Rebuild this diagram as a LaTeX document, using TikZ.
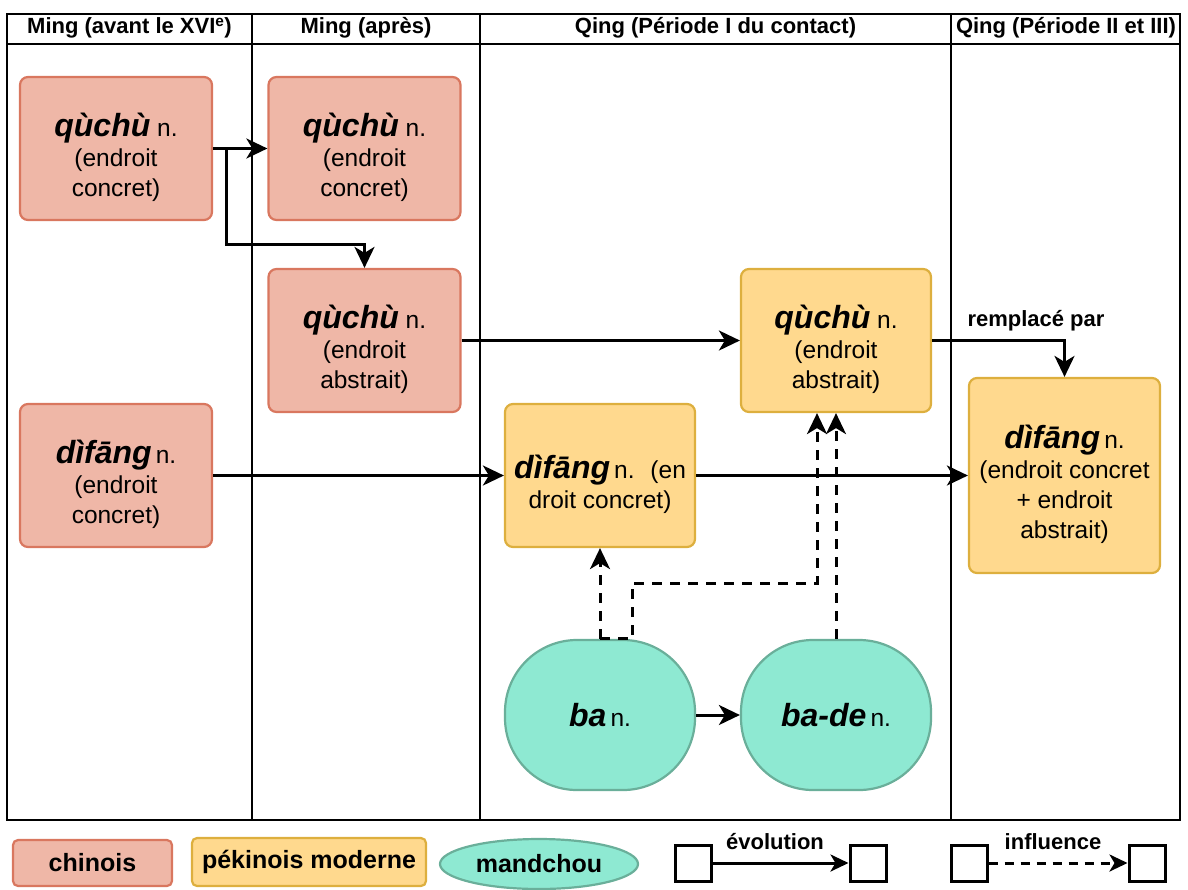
\documentclass[tikz,border=0pt]{standalone}
\usepackage{fontspec}
\setmainfont{Liberation Sans}
\usetikzlibrary{arrows.meta,shapes.geometric}
\definecolor{salF}{HTML}{EFB7A7}
\definecolor{salD}{HTML}{D9775F}
\definecolor{yelF}{HTML}{FFD98E}
\definecolor{yelD}{HTML}{DDAF3E}
\definecolor{mntF}{HTML}{8EE9D2}
\definecolor{mntD}{HTML}{6AAF9A}
\newcommand\hw[1]{{\bfseries\itshape\fontsize{32}{30}\selectfont #1}}
\newcommand\hwb[1]{\rule{0pt}{41pt}\hw{#1}}
\begin{document}
\begin{tikzpicture}[x=1pt,y=-1pt,
 box/.style={draw, line width=2.2pt, rounded corners=8pt, minimum width=192pt, minimum height=143pt, align=center, inner sep=0pt, font=\fontsize{24.5}{30}\selectfont},
 chi/.style={box, fill=salF, draw=salD},
 pek/.style={box, fill=yelF, draw=yelD},
 man/.style={draw=mntD, fill=mntF, line width=2.2pt, rounded corners=72pt, minimum width=190pt, minimum height=150pt, inner sep=0pt, font=\fontsize{24.5}{30}\selectfont},
 evo/.style={line width=3pt, -{Stealth[length=21pt,width=20pt,inset=6pt]}},
 inf/.style={evo, dash pattern=on 10pt off 8pt},
 hdr/.style={font=\bfseries\fontsize{22}{24}\selectfont, inner sep=0pt},
 grid/.style={line width=2pt},
 lg/.style={draw, line width=2.2pt, rounded corners=5pt, inner sep=0pt, font=\bfseries\fontsize{25}{27}\selectfont},
 sq/.style={draw, line width=3pt, minimum size=36pt, inner sep=0pt},
 lgarr/.style={line width=3pt, -{Stealth[length=18pt,width=17pt,inset=5pt]}},
 ]
\useasboundingbox (0,0) rectangle (1188,889);
% table
\draw[grid] (7,14) rectangle (1180,820);
\draw[grid] (7,44) -- (1180,44);
\foreach \x in {252,480,951} \draw[grid] (\x,14) -- (\x,820);
\node[hdr] (h1) at (129.5,28) {Ming (avant le XVI\textsuperscript{e})};
\node[hdr] (h2) at (366,28) {Ming (après)};
\node[hdr] (h3) at (715.5,28) {Qing (Période I du contact)};
\node[hdr] (h4) at (1066,28) {Qing (Période II et III)};
% boxes
\node[chi] (a) at (116,148.5) {\hwb{qùchù} n.\\(endroit\\concret)};
\node[chi] (b) at (364.5,148.5) {\hwb{qùchù} n.\\(endroit\\concret)};
\node[chi] (c) at (364.5,340.5) {\hwb{qùchù} n.\\(endroit\\abstrait)};
\node[chi] (d) at (116,475.5) {\hwb{dìfāng}\,n.\\(endroit\\concret)};
\node[pek, minimum width=190pt] (e) at (600,475.5) {\hwb{dìfāng}\,n.~ (en\\droit concret)};
\node[pek, minimum width=190pt] (f) at (836,340.5) {\hwb{qùchù} n.\\(endroit\\abstrait)};
\node[pek, minimum width=191pt, minimum height=195pt] (g) at (1064.5,475.5) {\hwb{dìfāng}\,n.\\(endroit concret\\+ endroit\\abstrait)};
\node[man] (ba) at (600,715) {\hw{ba}\,n.};
\node[man] (bade) at (836,715) {\hw{ba-de}\,n.};
% evolution arrows
\draw[evo] (a.east) -- (b.west);
\draw[evo] (a.east) -- (226,148.5) -- (226,244) -| (c.north);
\draw[evo] (c.east) -- (f.west);
\draw[evo] (d.east) -- (e.west);
\draw[evo] (e.east) -- (g.west);
\draw[evo] (f.east) -| (g.north);
\node[font=\bfseries\fontsize{22}{24}\selectfont] (rp) at (1036,321) {remplacé par};
\draw[evo] (ba.east) -- (bade.west);
% influence arrows
\draw[inf] (ba.north) -- (e.south);
\draw[inf] (ba.north) -- ++(32,0) |- (817,583) -- ([xshift=-19pt]f.south);
\draw[inf] (bade.north) -- (f.south);
% legend
\node[lg, fill=salF, draw=salD, minimum width=159pt, minimum height=46pt] (l1) at (92.5,863) {chinois};
\node[lg, fill=yelF, draw=yelD, minimum width=234pt, minimum height=48pt] (l2) at (309,862) {pékinois moderne};
\node[lg, ellipse, fill=mntF, draw=mntD, minimum width=198pt, minimum height=50pt] (l3) at (539,864) {mandchou};
\node[sq] (s1) at (693,863) {};
\node[sq] (s2) at (868,863) {};
\node[sq] (s3) at (969,863) {};
\node[sq] (s4) at (1147,863) {};
\draw[lgarr] (s1) -- (s2);
\draw[lgarr, dash pattern=on 9pt off 7pt] (s3) -- (s4);
\node[font=\bfseries\fontsize{22}{24}\selectfont] (t1) at (775,842) {évolution};
\node[font=\bfseries\fontsize{22}{24}\selectfont] (t2) at (1053,842) {influence};
\end{tikzpicture}
\end{document}
